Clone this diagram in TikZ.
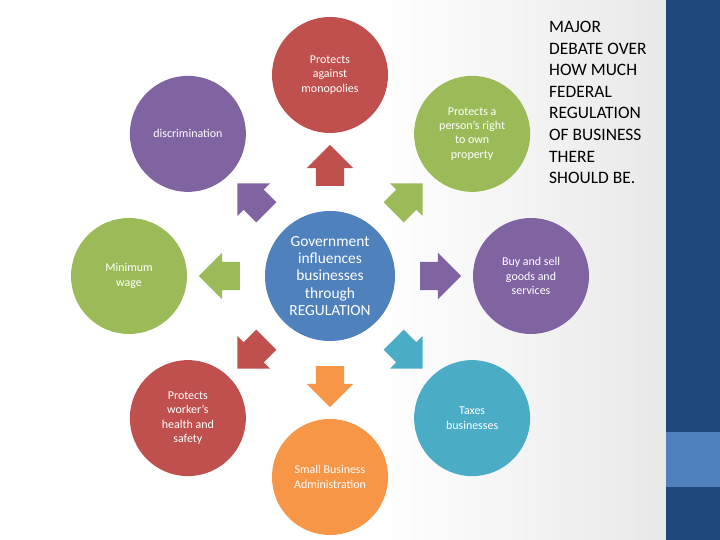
\documentclass[tikz,border=0pt]{standalone}
\usepackage{fontspec}
\setmainfont{Carlito}
\usetikzlibrary{calc,shapes.arrows}
\definecolor{ofred}{HTML}{C0504D}
\definecolor{ofgreen}{HTML}{9BBB59}
\definecolor{ofpurple}{HTML}{8064A2}
\definecolor{ofteal}{HTML}{4BACC6}
\definecolor{oforange}{HTML}{F79646}
\definecolor{ofblue}{HTML}{4F81BD}
\definecolor{ofnavy}{HTML}{1F497D}

\begin{document}
\begin{tikzpicture}[
x=1bp, y=1bp,
hub/.style={circle, fill=ofblue, minimum size=130bp, inner sep=0pt, align=center, text=white, font=\fontsize{15.5}{17.5}\selectfont},
item/.style={circle, fill=#1, minimum size=116bp, inner sep=0pt, align=center, text=white, font=\fontsize{12}{14.5}\selectfont},
push/.style={single arrow, fill=#1, draw=none, minimum height=41bp, inner xsep=0pt, inner ysep=14bp, single arrow head extend=9bp},
note/.style={anchor=north west, align=left, inner sep=0pt, text=black, font=\fontsize{17.5}{21.7}\selectfont}
]
\useasboundingbox (0,0) rectangle (720,540);
\fill[white] (0,0) rectangle (720,540);
\shade[left color=white, right color=black!9] (380,0) rectangle (666,540);
\fill[ofnavy] (666,0) rectangle (720,540);
\fill[ofblue] (666,53) rectangle (720,108);

\node[hub] (hub) at (330,264) {Government\\influences\\businesses\\through\\REGULATION};

\node[item=ofred] (monopoly) at ($(hub)+(90:201)$) {Protects\\against\\monopolies};
\node[item=ofgreen] (property) at ($(hub)+(45:201)$) {Protects a\\person’s right\\to own\\property};
\node[item=ofpurple] (trade) at ($(hub)+(0:201)$) {Buy and sell\\goods and\\services};
\node[item=ofteal] (taxes) at ($(hub)+(-45:201)$) {Taxes\\businesses};
\node[item=oforange] (sba) at ($(hub)+(-90:201)$) {Small Business\\Administration};
\node[item=ofred] (safety) at ($(hub)+(-135:201)$) {Protects\\worker’s\\health and\\safety};
\node[item=ofgreen] (wage) at ($(hub)+(180:201)$) {Minimum\\wage};
\node[item=ofpurple] (discrim) at ($(hub)+(135:201)$) {discrimination};

\node[push=ofred, rotate=90] (toMonopoly) at ($(hub)+(90:103.5)$) {};
\node[push=ofgreen, rotate=45] (toProperty) at ($(hub)+(45:103.5)$) {};
\node[push=ofpurple, rotate=0] (toTrade) at ($(hub)+(0:103.5)$) {};
\node[push=ofteal, rotate=-45] (toTaxes) at ($(hub)+(-45:103.5)$) {};
\node[push=oforange, rotate=-90] (toSba) at ($(hub)+(-90:103.5)$) {};
\node[push=ofred, rotate=-135] (toSafety) at ($(hub)+(-135:103.5)$) {};
\node[push=ofgreen, rotate=180] (toWage) at ($(hub)+(180:103.5)$) {};
\node[push=ofpurple, rotate=135] (toDiscrim) at ($(hub)+(135:103.5)$) {};

\node[note] (debate) at (549,519) {MAJOR\\DEBATE OVER\\HOW MUCH\\FEDERAL\\REGULATION\\OF BUSINESS\\THERE\\SHOULD BE.};
\end{tikzpicture}
\end{document}
